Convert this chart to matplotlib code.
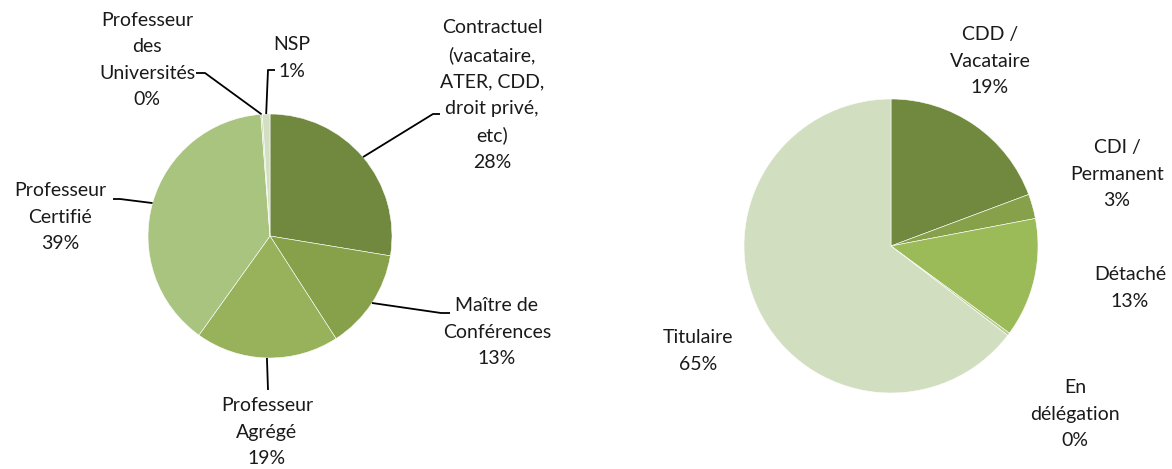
import matplotlib
matplotlib.use('Agg')
import matplotlib.pyplot as plt
import numpy as np

# ---- data ----
left_categories = ["Contractuel\n(vacataire,\nATER, CDD,\ndroit privé,\netc)",
                   "Maître de\nConférences",
                   "Professeur\nAgrégé",
                   "Professeur\nCertifié",
                   "Professeur\ndes\nUniversités",
                   "NSP"]
left_values = [27.6, 13.3, 19.0, 38.9, 0.2, 1.0]

right_categories = ["CDD /\nVacataire", "CDI /\nPermanent", "Détaché",
                    "En\ndélégation", "Titulaire"]
right_values = [19.3, 2.7, 13.1, 0.3, 64.6]

# ---- style ----
left_colors = ['#71893F', '#87A14B', '#97B25A', '#A9C47F', '#C3D4A6', '#D3DFC2']
right_colors = ['#71893F', '#87A14B', '#9BBB59', '#B7CC8F', '#D1DEBF']
TXT = '#1a1a1a'
FONT = 'Lato'
FS = 14
LS = 1.66

W, H = 1172, 469
fig = plt.figure(figsize=(W / 100, H / 100), dpi=100)


def make_axes(x0, x1, cx, cy, r):
    ax = fig.add_axes([x0 / W, 0, (x1 - x0) / W, 1])
    return ax, (cx, cy, r, x0, x1)


def setup(ax, geo):
    cx, cy, r, x0, x1 = geo
    ax.set_xlim((x0 - cx) / r, (x1 - cx) / r)
    ax.set_ylim(-(H - cy) / r, cy / r)
    ax.set_aspect('auto')
    ax.axis('off')


def px(geo, p):
    cx, cy, r, _, _ = geo
    return ((p[0] - cx) / r, (cy - p[1]) / r)


def pct_labels(vals):
    tot = sum(vals)
    return ['%d%%' % int(round(v / tot * 100)) for v in vals]


# Left pie
axL, geoL = make_axes(0, 586, 270, 236, 122)
wedgesL, _ = axL.pie(left_values, colors=left_colors, startangle=90,
                     counterclock=False, radius=1, center=(0, 0),
                     wedgeprops=dict(edgecolor='white', linewidth=0.4))
setup(axL, geoL)

left_text_pos = [(492, 95), (497, 332), (267, 432), (60, 217), (147, 60), (292, 58)]
left_leaders = [[(433, 114), (440, 114)],
                [(441, 313), (450, 313)],
                [(268, 390)],
                [(120, 199), (113, 199)],
                [(205, 73), (196, 73)],
                [(268, 70), (275, 70)]]

for w, lab, pct, tp, lead in zip(wedgesL, left_categories, pct_labels(left_values),
                                 left_text_pos, left_leaders):
    mid = np.deg2rad((w.theta1 + w.theta2) / 2)
    pts = [(np.cos(mid), np.sin(mid))] + [px(geoL, p) for p in lead]
    xs, ys = zip(*pts)
    axL.plot(xs, ys, color='black', lw=1.3, solid_capstyle='butt')
    x, y = px(geoL, tp)
    axL.text(x, y, lab + "\n" + pct, ha='center', va='center',
             multialignment='center', fontsize=FS, family=FONT,
             color=TXT, linespacing=LS)

# Right pie
axR, geoR = make_axes(586, 1172, 891, 246, 147)
wedgesR, _ = axR.pie(right_values, colors=right_colors, startangle=90,
                     counterclock=False, radius=1, center=(0, 0),
                     wedgeprops=dict(edgecolor='white', linewidth=0.4))
setup(axR, geoR)

right_text_pos = [(990, 61), (1117, 174), (1130, 288), (1075, 414), (698, 351)]
for lab, pct, tp in zip(right_categories, pct_labels(right_values), right_text_pos):
    x, y = px(geoR, tp)
    axR.text(x, y, lab + "\n" + pct, ha='center', va='center',
             multialignment='center', fontsize=FS, family=FONT,
             color=TXT, linespacing=LS)

fig.savefig('out.png', dpi=100)
